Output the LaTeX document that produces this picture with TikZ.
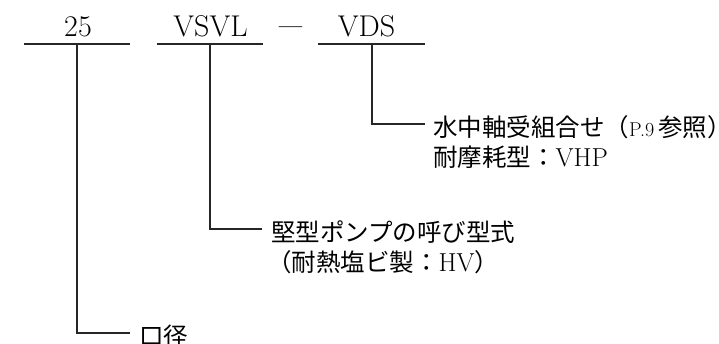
\documentclass[tikz,border=0pt]{standalone}
\usepackage{fontspec}
\newfontfamily\jp{Noto Sans CJK JP}
\newcommand{\latn}[2]{{\rmfamily\fontsize{#1}{#1}\selectfont\addfontfeature{LetterSpace=8}#2}}
\begin{document}
\begin{tikzpicture}[x=1pt,y=-1pt,
  lead/.style={draw=black!85,line width=1.1pt},
  code/.style={inner sep=0pt,anchor=base,font=\fontsize{30}{36}\selectfont},
  desc/.style={inner sep=0pt,anchor=base west,font=\fontsize{24.5}{30}\selectfont\jp}]
\useasboundingbox (0,0) rectangle (719,344);
% top codes
\node[code] (c1) at (78,36.5) {25};
\node[code] (c2) at (210.5,36.5) {VSVL};
\node[code] (c3) at (366.5,36.5) {VDS};
\node[inner sep=0pt,anchor=base,font=\fontsize{50}{50}\selectfont] (dash) at (290.5,40.5) {–};
% underlines
\coordinate (u1a) at (24,44); \coordinate (u1b) at (130,44);
\coordinate (u2a) at (157,44); \coordinate (u2b) at (263,44);
\coordinate (u3a) at (318,44); \coordinate (u3b) at (425,44);
\draw[lead] (u1a) -- (u1b);
\draw[lead] (u2a) -- (u2b);
\draw[lead] (u3a) -- (u3b);
% descriptions
\node[desc] (d3a) at (433,137) {水中軸受組合せ（\latn{20}{P.9}\,参照）};
\node[desc] (d3b) at (433,166.5) {耐摩耗型：\latn{26}{VHP}};
\node[desc] (d2a) at (271,242) {堅型ポンプの呼び型式};
\node[desc] (d2b) at (267,272) {（耐熱塩ビ製：\latn{26}{HV}）};
\node[desc] (d1) at (139,345.5) {口径};
% leaders
\coordinate (t1) at (77,44); \coordinate (k1) at (77,333); \coordinate (e1) at (130,333);
\coordinate (t2) at (210,44); \coordinate (k2) at (210,229); \coordinate (e2) at (262,229);
\coordinate (t3) at (372,44); \coordinate (k3) at (372,124); \coordinate (e3) at (425,124);
\draw[lead] (t1) -- (k1) -- (e1);
\draw[lead] (t2) -- (k2) -- (e2);
\draw[lead] (t3) -- (k3) -- (e3);
\end{tikzpicture}
\end{document}
